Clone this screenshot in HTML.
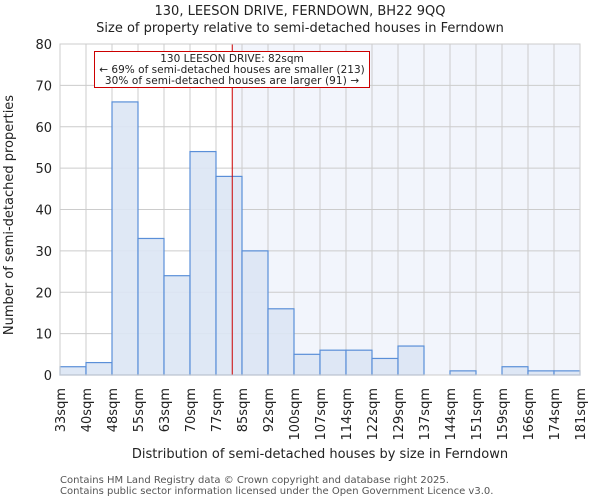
<!DOCTYPE html>
<html><head><meta charset="utf-8"><style>
body{margin:0;background:#fff;font-family:"DejaVu Sans","Liberation Sans",sans-serif}
svg text{font-family:"DejaVu Sans","Liberation Sans",sans-serif;fill:#222}
</style></head><body>
<svg width="600" height="500">
<g id="plot"></g>
</svg>
<script>
const labels=["33sqm","40sqm","48sqm","55sqm","63sqm","70sqm","77sqm","85sqm","92sqm","100sqm","107sqm","114sqm","122sqm","129sqm","137sqm","144sqm","151sqm","159sqm","166sqm","174sqm","181sqm"];
const counts=[2,3,66,33,24,54,48,30,16,5,6,6,4,7,0,1,0,2,1,1];
const yTicks=[0,10,20,30,40,50,60,70,80];
const marker=82;
const X0=60,X1=580,Y0=375,Y1=44,YMAX=80;
const bw=(X1-X0)/counts.length;
const xs=i=>X0+i*bw;
const ys=v=>Y0-(v/YMAX)*(Y0-Y1);
const edgeVals=labels.map(l=>parseFloat(l));
function xv(v){for(let i=0;i<edgeVals.length-1;i++){if(v<=edgeVals[i+1])return xs(i)+(v-edgeVals[i])/(edgeVals[i+1]-edgeVals[i])*bw;}return X1;}
const NS="http://www.w3.org/2000/svg";
const g=document.getElementById('plot');
function mk(t,a,txt){const e=document.createElementNS(NS,t);for(const k in a)e.setAttribute(k,a[k]);if(txt!==undefined)e.textContent=txt;g.appendChild(e);return e;}
const mx=xv(marker);
let e=mk('rect',{x:mx,y:Y1,width:X1-mx,height:Y0-Y1,fill:'#f2f5fc'});


yTicks.forEach(t=>{const l=mk('line',{x1:X0,x2:X1,y1:ys(t),y2:ys(t),stroke:'#cccccc'});


const tx=mk('text',{x:X0-8,y:ys(t)+5,'text-anchor':'end','font-size':13},t);

});
labels.forEach((lb,i)=>{const x=xs(i);const l=mk('line',{x1:x,x2:x,y1:Y1,y2:Y0,stroke:'#cccccc'});


const tx=mk('text',{x:0,y:0,'text-anchor':'end','font-size':13,transform:`translate(${x+5},388) rotate(-90)`},lb);

});
counts.forEach((c,i)=>{if(c<=0)return;const r=mk('rect',{x:xs(i),y:ys(c),width:bw,height:Y0-ys(c),fill:'#dbe5f4',stroke:'#5a8fd8','stroke-width':1.2,'fill-opacity':0.9});

});
e=mk('line',{x1:mx,x2:mx,y1:Y1,y2:Y0,stroke:'#cc0000','stroke-width':1});


e=mk('rect',{x:X0,y:Y1,width:X1-X0,height:Y0-Y1,fill:'none',stroke:'#cccccc'});


e=mk('rect',{x:94.5,y:51.5,width:275,height:36,fill:'#fff',stroke:'#cc0000'});


[["130 LEESON DRIVE: 82sqm",62],["← 69% of semi-detached houses are smaller (213)",73],["30% of semi-detached houses are larger (91) →",84]].forEach(([t,y])=>{const tx=mk('text',{x:232,y:y,'text-anchor':'middle','font-size':10.5,textLength:(t.length>30?t.length*5.65:0)||null},t);
if(!tx.getAttribute('textLength')||tx.getAttribute('textLength')==='null')tx.removeAttribute('textLength');

});
[["130, LEESON DRIVE, FERNDOWN, BH22 9QQ",15,'chart-title'],["Size of property relative to semi-detached houses in Ferndown",32,'chart-subtitle']].forEach(([t,y,n])=>{const tx=mk('text',{x:300,y:y,'text-anchor':'middle','font-size':13},t);

});
e=mk('text',{x:320,y:458,'text-anchor':'middle','font-size':13},'Distribution of semi-detached houses by size in Ferndown');


e=mk('text',{x:0,y:0,'text-anchor':'middle','font-size':13,transform:'translate(13,215) rotate(-90)'},'Number of semi-detached properties');


[["Contains HM Land Registry data © Crown copyright and database right 2025.",483],["Contains public sector information licensed under the Open Government Licence v3.0.",494]].forEach(([t,y])=>{const tx=mk('text',{x:60,y:y,'font-size':10,style:'fill:#555'},t);

});
</script>
</body></html>
